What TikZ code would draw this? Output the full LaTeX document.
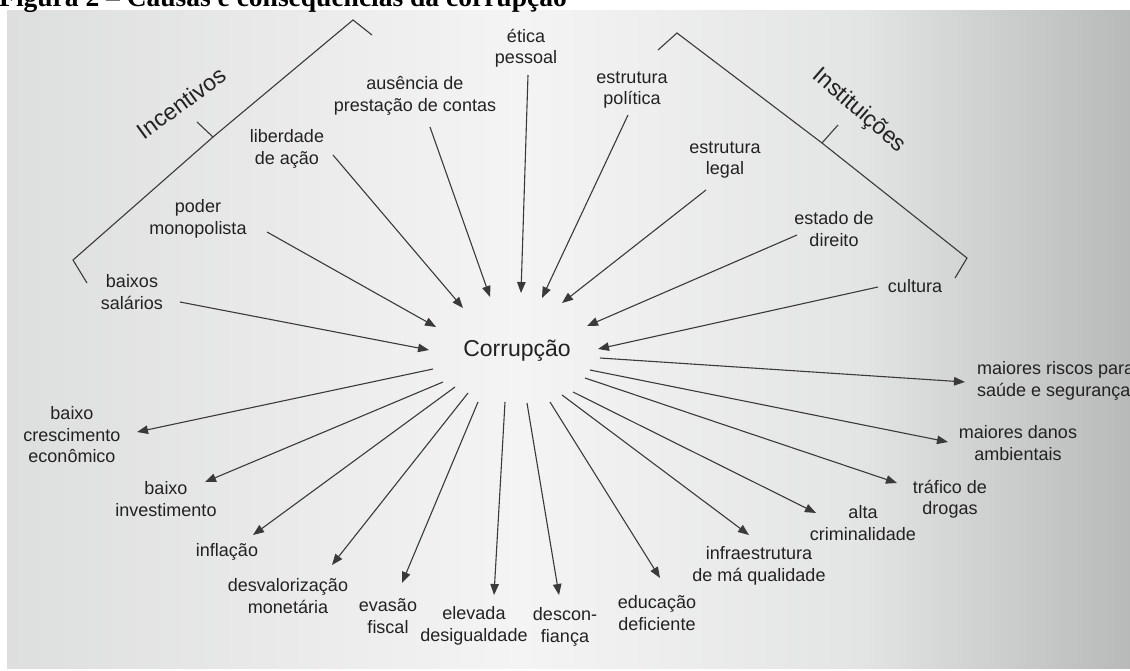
\documentclass[tikz,border=0pt]{standalone}
\usepackage{fontspec}
\setmainfont{Liberation Sans}
\newfontfamily\titlefont{Liberation Serif}
\usetikzlibrary{arrows.meta}
\definecolor{ink}{HTML}{222222}
\definecolor{lineink}{HTML}{3A3A3A}
\definecolor{bgL}{HTML}{DDDEDE}
\definecolor{bgM}{HTML}{F4F4F4}
\definecolor{bgQ}{HTML}{E3E4E4}
\definecolor{bgR}{HTML}{B8B9B9}
\begin{document}
\begin{tikzpicture}[x=1pt,y=-1pt,
  lbl/.style={font=\fontsize{18}{21.5}\selectfont, align=center, inner sep=0pt, text=ink},
  big/.style={font=\fontsize{23}{27}\selectfont, inner sep=0pt, text=ink},
  arr/.style={draw=lineink, line width=1.1pt, -{Triangle[length=11pt,width=8.5pt]}},
  bracestyle/.style={draw=lineink, line width=1.1pt, line join=miter}
]
\useasboundingbox (0,0) rectangle (1130,670);
\clip (0,0) rectangle (1130,670);
\fill[white] (0,0) rectangle (1130,670);
% photo background
\shade[left color=bgL, right color=bgM] (7,10) rectangle (520,668);
\shade[left color=bgM, right color=bgQ] (519,10) rectangle (860,668);
\shade[left color=bgQ, right color=bgR] (859,10) rectangle (1130,668);
% title (cut at the top)
\node[anchor=base west, inner sep=0pt, font=\titlefont\bfseries\fontsize{27.5}{30}\selectfont] (title) at (-1,6) {Figura 2 – Causas e consequências da corrupção};

% centre
\node[big] (corr) at (517,351) {Corrupção};

% causes
\node[lbl] (sal) at (132,292) {baixos\\salários};
\node[lbl] (mon) at (198,219) {poder\\monopolista};
\node[lbl] (lib) at (287,149) {liberdade\\de ação};
\node[lbl] (aus) at (415,96) {ausência de\\prestação de contas};
\node[lbl] (eti) at (526,48) {ética\\pessoal};
\node[lbl] (pol) at (632,90) {estrutura\\política};
\node[lbl] (leg) at (725,160) {estrutura\\legal};
\node[lbl] (dir) at (834,229) {estado de\\direito};
\node[lbl] (cul) at (915,286) {cultura};

% consequences
\node[lbl] (cre) at (72,435) {baixo\\crescimento\\econômico};
\node[lbl] (inv) at (166,499) {baixo\\investimento};
\node[lbl] (inf) at (227,552) {inflação};
\node[lbl] (des) at (288,596) {desvalorização\\monetária};
\node[lbl] (eva) at (388,616) {evasão\\fiscal};
\node[lbl] (ele) at (474,626) {elevada\\desigualdade};
\node[lbl] (dcf) at (565,627) {descon-\\fiança};
\node[lbl] (edu) at (657,613) {educação\\deficiente};
\node[lbl] (ifr) at (759,566) {infraestrutura\\de má qualidade};
\node[lbl] (cri) at (863,523) {alta\\criminalidade};
\node[lbl] (tra) at (950,499) {tráfico de\\drogas};
\node[lbl] (amb) at (1018,443) {maiores danos\\ambientais};
\node[lbl, anchor=west, align=left] (sau) at (977,381) {maiores riscos para\\saúde e segurança};

% group labels
\node[big, rotate=36] (incv) at (181,103) {Incentivos};
\node[big, rotate=-41] (inst) at (859,111) {Instituições};

% braces
\draw[bracestyle] (372,35) -- (353,20) -- (213,137) -- (197,122);
\draw[bracestyle] (213,137) -- (73,260) -- (87,283);
\draw[bracestyle] (658,50) -- (677,33) -- (822,143) -- (838,125);
\draw[bracestyle] (822,143) -- (967,258) -- (955,278);

% arrow end points: causes (tail s-, tip e-)
\coordinate (s-sal) at (180,302); \coordinate (e-sal) at (429,350);
\coordinate (s-mon) at (267,232); \coordinate (e-mon) at (436,327);
\coordinate (s-lib) at (333,155); \coordinate (e-lib) at (463,308);
\coordinate (s-aus) at (430,127); \coordinate (e-aus) at (490,297);
\coordinate (s-eti) at (528,75);  \coordinate (e-eti) at (521,293);
\coordinate (s-pol) at (628,115); \coordinate (e-pol) at (542,298);
\coordinate (s-leg) at (706,190); \coordinate (e-leg) at (562,303);
\coordinate (s-dir) at (797,235); \coordinate (e-dir) at (587,326);
\coordinate (s-cul) at (878,287); \coordinate (e-cul) at (598,349);

\foreach \n in {sal,mon,lib,aus,eti,pol,leg,dir,cul}
  \draw[arr] (s-\n) -- (e-\n);

% arrow end points: consequences
\coordinate (s-cre) at (433,369); \coordinate (e-cre) at (137,432);
\coordinate (s-inv) at (443,382); \coordinate (e-inv) at (205,482);
\coordinate (s-inf) at (455,387); \coordinate (e-inf) at (253,535);
\coordinate (s-des) at (468,393); \coordinate (e-des) at (332,565);
\coordinate (s-eva) at (478,402); \coordinate (e-eva) at (402,583);
\coordinate (s-ele) at (505,402); \coordinate (e-ele) at (494,595);
\coordinate (s-dcf) at (527,403); \coordinate (e-dcf) at (559,595);
\coordinate (s-edu) at (550,402); \coordinate (e-edu) at (660,578);
\coordinate (s-ifr) at (562,395); \coordinate (e-ifr) at (749,535);
\coordinate (s-cri) at (573,392); \coordinate (e-cri) at (816,513);
\coordinate (s-tra) at (585,378); \coordinate (e-tra) at (897,483);
\coordinate (s-amb) at (590,370); \coordinate (e-amb) at (948,442);
\coordinate (s-sau) at (600,358); \coordinate (e-sau) at (965,382);

\foreach \n in {cre,inv,inf,des,eva,ele,dcf,edu,ifr,cri,tra,amb,sau}
  \draw[arr] (s-\n) -- (e-\n);
\end{tikzpicture}
\end{document}
